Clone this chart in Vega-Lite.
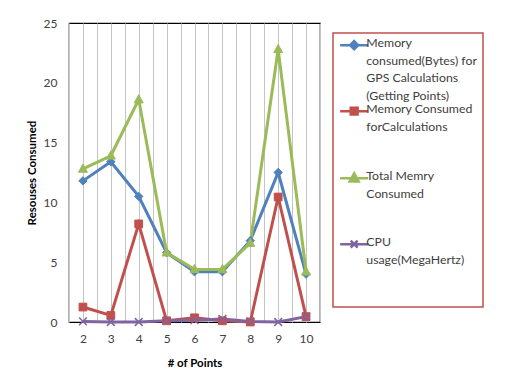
{
  "$schema": "https://vega.github.io/schema/vega-lite/v6.json",
  "autosize": "none",
  "width": 251,
  "height": 299,
  "padding": {"left": 69, "top": 23, "right": 191, "bottom": 63},
  "background": "white",
  "config": {
    "font": "Lato",
    "view": {"stroke": "black", "strokeWidth": 1.2},
    "axis": {"domain": false, "ticks": false, "labelColor": "#404040", "labelFontSize": 12, "titleColor": "black", "titleFontWeight": "bold", "titleFontSize": 11.5}
  },
  "data": {
    "values": [
      {"points": 2, "series": "GPS", "value": 11.8},
      {"points": 3, "series": "GPS", "value": 13.4},
      {"points": 4, "series": "GPS", "value": 10.5},
      {"points": 5, "series": "GPS", "value": 5.8},
      {"points": 6, "series": "GPS", "value": 4.2},
      {"points": 7, "series": "GPS", "value": 4.2},
      {"points": 8, "series": "GPS", "value": 6.8},
      {"points": 9, "series": "GPS", "value": 12.5},
      {"points": 10, "series": "GPS", "value": 4.0},
      {"points": 2, "series": "Calc", "value": 1.25},
      {"points": 3, "series": "Calc", "value": 0.55},
      {"points": 4, "series": "Calc", "value": 8.2},
      {"points": 5, "series": "Calc", "value": 0.1},
      {"points": 6, "series": "Calc", "value": 0.35},
      {"points": 7, "series": "Calc", "value": 0.1},
      {"points": 8, "series": "Calc", "value": 0.0},
      {"points": 9, "series": "Calc", "value": 10.45},
      {"points": 10, "series": "Calc", "value": 0.45},
      {"points": 2, "series": "Total", "value": 12.8},
      {"points": 3, "series": "Total", "value": 13.9},
      {"points": 4, "series": "Total", "value": 18.6},
      {"points": 5, "series": "Total", "value": 5.8},
      {"points": 6, "series": "Total", "value": 4.4},
      {"points": 7, "series": "Total", "value": 4.4},
      {"points": 8, "series": "Total", "value": 6.6},
      {"points": 9, "series": "Total", "value": 22.8},
      {"points": 10, "series": "Total", "value": 4.2},
      {"points": 2, "series": "CPU", "value": 0.05},
      {"points": 3, "series": "CPU", "value": 0.0},
      {"points": 4, "series": "CPU", "value": 0.0},
      {"points": 5, "series": "CPU", "value": 0.1},
      {"points": 6, "series": "CPU", "value": 0.15},
      {"points": 7, "series": "CPU", "value": 0.25},
      {"points": 8, "series": "CPU", "value": 0.05},
      {"points": 9, "series": "CPU", "value": 0.0},
      {"points": 10, "series": "CPU", "value": 0.45}
    ]
  },
  "encoding": {
    "x": {
      "field": "points", "type": "quantitative",
      "scale": {"domain": [1.5, 10.5], "nice": false, "zero": false},
      "axis": {
        "title": "# of Points",
        "values": [1.5, 2, 2.5, 3, 3.5, 4, 4.5, 5, 5.5, 6, 6.5, 7, 7.5, 8, 8.5, 9, 9.5, 10, 10.5],
        "labelExpr": "datum.value % 1 == 0 ? format(datum.value, 'd') : ''",
        "grid": true, "gridColor": "#c4c4c4", "gridWidth": 1,
        "labelPadding": 11, "titlePadding": 13
      }
    },
    "y": {
      "field": "value", "type": "quantitative",
      "scale": {"domain": [0, 25], "nice": false},
      "axis": {"title": "Resouses Consumed", "values": [0, 5, 10, 15, 20, 25], "grid": false, "labelPadding": 12, "titlePadding": 6}
    },
    "color": {
      "field": "series", "type": "nominal",
      "scale": {"domain": ["GPS", "Calc", "Total", "CPU"], "range": ["#4F81BD", "#C0504D", "#9BBB59", "#8064A2"]},
      "legend": {
        "orient": "none", "legendX": 264, "legendY": 10,
        "title": null,
        "strokeColor": "#C0504D", "padding": 6, "cornerRadius": 0,
        "symbolSize": 36, "symbolStrokeWidth": 2.5, "symbolType": "stroke", "symbolOffset": 9,
        "labelFontSize": 12.3, "labelColor": "#404040", "labelOffset": 6, "labelBaseline": "top",
        "rowPadding": 0,
        "labelExpr": "datum.value == 'GPS' ? ['Memory', 'consumed(Bytes) for', 'GPS Calculations', '(Getting Points)'] : datum.value == 'Calc' ? ['Memory Consumed', 'forCalculations', '', ''] : datum.value == 'Total' ? ['Total Memry', 'Consumed', '', ''] : ['CPU', 'usage(MegaHertz)', '', '']",
        "encode": {
          "legend": {"update": {"strokeWidth": {"value": 1.5}}},
          "symbols": {"update": {
            "shape": {"signal": "datum.value == 'GPS' ? 'M-4.67,0H4.67M0,-1.35L1.35,0L0,1.35L-1.35,0Z' : datum.value == 'Calc' ? 'M-4.67,0H4.67M-1.15,-1.15H1.15V1.15H-1.15Z' : datum.value == 'Total' ? 'M-4.67,0H4.67M0,-1.6L1.5,1.1H-1.5Z' : 'M-4.67,0H4.67M-1.15,-1.15L1.15,1.15M-1.15,1.15L1.15,-1.15'"},
            "fill": {"signal": "scale('color', datum.value)"},
            "stroke": {"signal": "scale('color', datum.value)"},
            "strokeWidth": {"value": 2.5},
            "opacity": {"value": 1}
          }},
          "labels": {"update": {"lineHeight": {"value": 17.5}, "dy": {"value": -8}}}
        }
      }
    }
  },
  "layer": [
    {"mark": {"type": "line", "strokeWidth": 3}},
    {
      "transform": [{"filter": "datum.series == 'GPS'"}],
      "mark": {"type": "point", "filled": true, "opacity": 1, "shape": "M0,-1L1,0L0,1L-1,0Z", "size": 70, "stroke": "#4F81BD", "strokeWidth": 1}
    },
    {
      "transform": [{"filter": "datum.series == 'Calc'"}],
      "mark": {"type": "point", "filled": true, "opacity": 1, "shape": "M-1,-1H1V1H-1Z", "size": 60, "stroke": "#C0504D", "strokeWidth": 1}
    },
    {
      "transform": [{"filter": "datum.series == 'Total'"}],
      "mark": {"type": "point", "filled": true, "opacity": 1, "shape": "M0,-1.1L1,0.75H-1Z", "size": 80, "stroke": "#9BBB59", "strokeWidth": 1}
    },
    {
      "transform": [{"filter": "datum.series == 'CPU'"}],
      "mark": {"type": "point", "filled": false, "opacity": 1, "shape": "M-1,-1L1,1M-1,1L1,-1", "size": 60, "strokeWidth": 1.5}
    }
  ]
}
